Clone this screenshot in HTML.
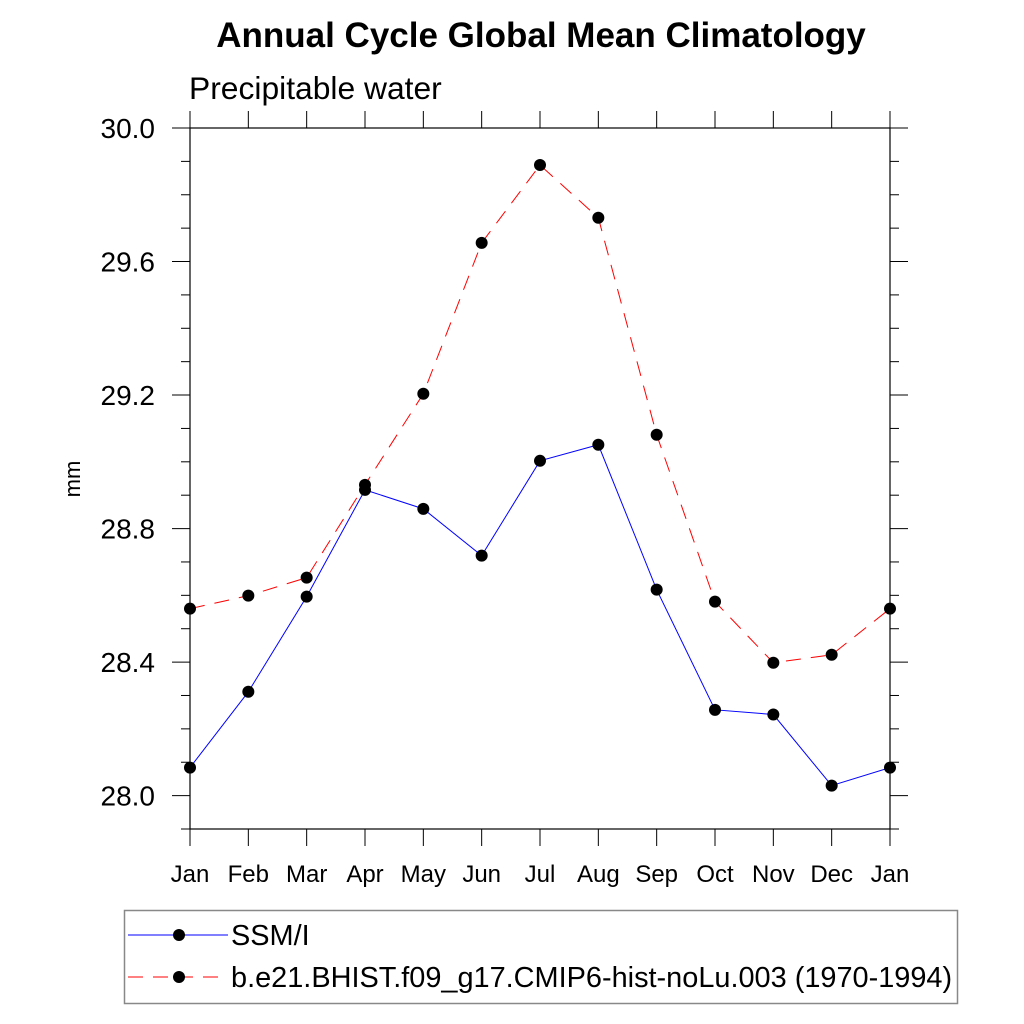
<!DOCTYPE html>
<html><head><meta charset="utf-8"><style>
body{margin:0;background:#fff;}
svg{display:block;font-family:"Liberation Sans",sans-serif;}
</style></head><body>
<svg id="c" width="1024" height="1024" viewBox="0 0 1024 1024">
<text x="541" y="47" text-anchor="middle" font-size="35" font-weight="bold">Annual Cycle Global Mean Climatology</text>
<text x="189" y="99" font-size="31.8">Precipitable water</text>
<text transform="translate(80,479) rotate(-90)" text-anchor="middle" font-size="22">mm</text>
<g id="axes"></g><g id="series"></g>
<rect x="124.5" y="910.5" width="833" height="93" fill="none" stroke="#888" stroke-width="1.5"/>
<line x1="128" y1="935" x2="228" y2="935" stroke="#00f" stroke-width="1"/>
<circle cx="179" cy="935" r="6" fill="#000"/>
<text x="231" y="945" font-size="28.9">SSM/I</text>
<line x1="128" y1="977" x2="228" y2="977" stroke="#f00" stroke-width="1" stroke-dasharray="15,10"/>
<circle cx="179" cy="977" r="6" fill="#000"/>
<text x="231" y="987" font-size="28.9">b.e21.BHIST.f09_g17.CMIP6-hist-noLu.003 (1970-1994)</text>
</svg>
<script>
const months=["Jan","Feb","Mar","Apr","May","Jun","Jul","Aug","Sep","Oct","Nov","Dec","Jan"];
const ssmi=[28.084,28.311,28.596,28.916,28.859,28.719,29.003,29.051,28.617,28.257,28.243,28.03,28.084];
const model=[28.56,28.599,28.653,28.931,29.204,29.656,29.889,29.731,29.081,28.581,28.398,28.422,28.56];
const yTicks=[28.0,28.4,28.8,29.2,29.6,30.0];
const yMin=27.9,yMax=30.0;
const L=190,R=890,T=128,B=829;
const NS="http://www.w3.org/2000/svg";
const xs=i=>L+(R-L)*i/(months.length-1);
const ys=v=>B-(B-T)*(v-yMin)/(yMax-yMin);
function mk(tag,attrs,parent){const e=document.createElementNS(NS,tag);for(const k in attrs)e.setAttribute(k,attrs[k]);parent.appendChild(e);return e;}
const ax=document.getElementById('axes');
const fr=mk('rect',{x:L,y:T,width:R-L,height:B-T,fill:'none',stroke:'#000','stroke-width':1.2},ax);


for(let k=0;k<=Math.round((yMax-yMin)*10);k++){
  const v=yMin+k*0.1;const y=ys(v);
  const major=yTicks.some(t=>Math.abs(t-v)<1e-6);
  const len=major?18:9;
  const t1=mk('line',{x1:L-len,y1:y,x2:L,y2:y,stroke:'#000','stroke-width':1},ax);
  
  
  const t2=mk('line',{x1:R,y1:y,x2:R+len,y2:y,stroke:'#000','stroke-width':1},ax);
  
  
}
yTicks.forEach(v=>{
  const t=mk('text',{x:L-35,y:ys(v)+10,'text-anchor':'end','font-size':28},ax);
  t.textContent=v.toFixed(1);
  
  
});
months.forEach((m,i)=>{
  const x=xs(i);
  const a=mk('line',{x1:x,y1:B,x2:x,y2:B+17,stroke:'#000','stroke-width':1},ax);
  
  
  const b=mk('line',{x1:x,y1:T-17,x2:x,y2:T,stroke:'#000','stroke-width':1},ax);
  
  
  const t=mk('text',{x:x,y:B+53,'text-anchor':'middle','font-size':24},ax);
  t.textContent=m;
  
  
});
const sg=document.getElementById('series');
function drawSeries(vals,color,dash,name){
  const p=mk('polyline',{points:vals.map((v,i)=>xs(i)+','+ys(v)).join(' '),fill:'none',stroke:color,'stroke-width':1,'stroke-dasharray':dash},sg);
  
  
  vals.forEach((v,i)=>{
    const c=mk('circle',{cx:xs(i),cy:ys(v),r:6,fill:'#000'},sg);
    
    
  });
}
drawSeries(model,'#f00','15,10','model');
drawSeries(ssmi,'#00f','none','ssmi');
</script>
</body></html>
